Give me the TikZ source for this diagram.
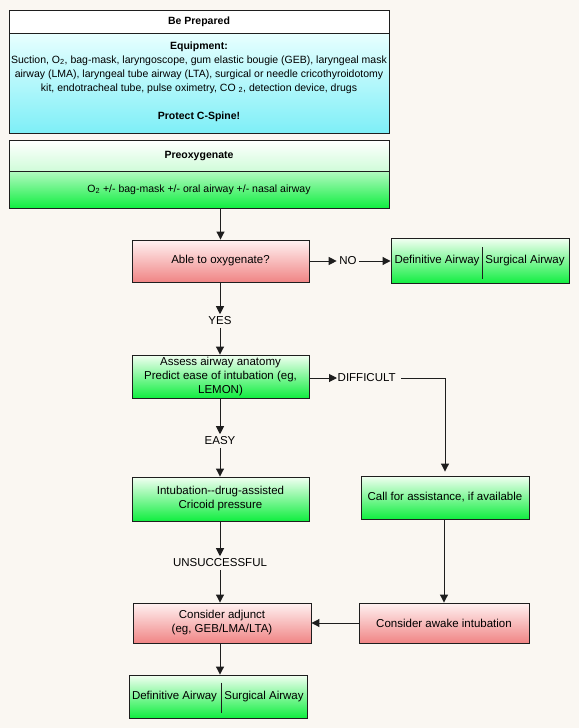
\documentclass[tikz,border=0pt]{standalone}
\usepackage{fontspec}
\setmainfont{Liberation Sans}
\definecolor{pageBg}{HTML}{FAF7F2}
\definecolor{lineGray}{HTML}{1E1E1E}
\definecolor{cyanTop}{HTML}{E8FFFF}
\definecolor{cyanBot}{HTML}{7EEFF7}
\definecolor{greenTop}{HTML}{F2FFF2}
\definecolor{greenBot}{HTML}{10EE40}
\definecolor{redTop}{HTML}{FFF2F2}
\definecolor{redBot}{HTML}{F08585}
\usetikzlibrary{arrows.meta, calc}

\begin{document}
\begin{tikzpicture}[x=1pt, y=-1pt,
      every node/.style={font=\fontsize{11.5}{14}\selectfont, text=black},
      small/.style={font=\fontsize{10.5}{14}\selectfont},
      box/.style={draw=lineGray, line width=0.9pt, inner sep=1pt, align=center},
      greenbox/.style={box, top color=greenTop, bottom color=greenBot},
      redbox/.style={box, top color=redTop, bottom color=redBot},
      lbl/.style={inner sep=2.5pt},
      flow/.style={draw=lineGray, line width=1pt, -{Triangle[length=8pt, width=8pt]}}]
   % Page background
   \useasboundingbox (0,0) rectangle (579,728);
   \fill[pageBg] (0,0) rectangle (579,728);
   % Be prepared
   \node[box, small, fill=white, minimum width=380, minimum height=23] (prep) at (199,21.5)
      {\bfseries Be Prepared};
   \node[box, top color=cyanTop, bottom color=cyanBot, minimum width=380, minimum height=100]
      (equip) at (199,83) {};
   \node[small, align=center] (equipTxt) at (199,81.5) {\bfseries Equipment:\\
      Suction, O\textsubscript{2}, bag-mask, laryngoscope, gum elastic bougie (GEB), laryngeal mask\\
      airway (LMA), laryngeal tube airway (LTA), surgical or needle cricothyroidotomy\\
      kit, endotracheal tube, pulse oximetry, CO \textsubscript{2}, detection device, drugs\\[14pt]
      \bfseries Protect C-Spine!};
   % Preoxygenate
   \node[box, small, top color=white, bottom color=greenTop!60!greenBot!45, minimum width=380, minimum height=31]
      (preox) at (199,155.5) {\bfseries Preoxygenate};
   \node[box, small, top color=greenTop!45!greenBot!55, bottom color=greenBot, minimum width=380, minimum height=37]
      (preoxTxt) at (199,189.5)
      {O\textsubscript{2} +/- bag-mask +/- oral airway +/- nasal airway};
   % Decision column
   \node[redbox, minimum width=177, minimum height=42] (able) at (220.5,261) {Able to oxygenate?};
   \node[greenbox, minimum width=178, minimum height=45] (defA) at (480,261) {};
   \node (defAL) at (437,261) {Definitive Airway};
   \node (defAR) at (525,261) {Surgical Airway};
   \draw[lineGray, line width=0.9pt] ($(defA.north)+(2,9)$) -- ($(defA.south)+(2,-5)$);
   \node[lbl] (noLbl) at (348,261) {NO};
   \node[lbl] (yesLbl) at (220,321) {YES};
   \node[greenbox, minimum width=177, minimum height=43] (assess) at (220.5,376.5)
      {Assess airway anatomy\\Predict ease of intubation (eg,\\LEMON)};
   \node[lbl, inner sep=0.5pt, anchor=west] (diffLbl) at (337,378) {DIFFICULT};
   \node[lbl] (easyLbl) at (220,441) {EASY};
   \node[greenbox, minimum width=177, minimum height=44] (intub) at (220.5,499)
      {Intubation-{}-drug-assisted\\Cricoid pressure};
   \node[greenbox, minimum width=168, minimum height=43] (call) at (445,497.5)
      {Call for assistance, if available};
   \node[lbl] (unsLbl) at (220,563) {UNSUCCESSFUL};
   \node[redbox, minimum width=178, minimum height=40] (adjunct) at (222,623)
      {Consider adjunct\\(eg, GEB/LMA/LTA)};
   \node[redbox, minimum width=170, minimum height=40] (awake) at (444,623)
      {Consider awake intubation};
   \node[greenbox, minimum width=178, minimum height=43] (defB) at (218,696.5) {};
   \node (defBL) at (174.5,697) {Definitive Airway};
   \node (defBR) at (264,697) {Surgical Airway};
   \draw[lineGray, line width=0.9pt] ($(defB.north)+(3,8)$) -- ($(defB.south)+(3,-5)$);
   % Connectors
   \draw[flow] (preoxTxt.south -| able) -- (able.north);
   \draw[flow] (able.east) -- (noLbl.west);
   \draw[flow] (noLbl.east) -- (noLbl.east -| defA.west);
   \draw[flow] (able.south -| yesLbl) -- (yesLbl.north);
   \draw[flow] (yesLbl.south) -- (yesLbl.south |- assess.north);
   \draw[flow] (assess.east |- diffLbl) -- (diffLbl.west);
   \draw[flow] (diffLbl.east) ++(5,0) -| ($(call.north)+(0,-4)$);
   \draw[flow] (assess.south -| easyLbl) -- (easyLbl.north);
   \draw[flow] (easyLbl.south) -- (easyLbl.south |- intub.north);
   \draw[flow] (intub.south -| unsLbl) -- (unsLbl.north);
   \draw[flow] (unsLbl.south) -- (unsLbl.south |- adjunct.north);
   \draw[flow] (call.south -| awake) -- (awake.north);
   \draw[flow] (awake.west) -- (adjunct.east);
   \draw[flow] (adjunct.south -| unsLbl) -- (unsLbl |- defB.north);
\end{tikzpicture}
\end{document}
